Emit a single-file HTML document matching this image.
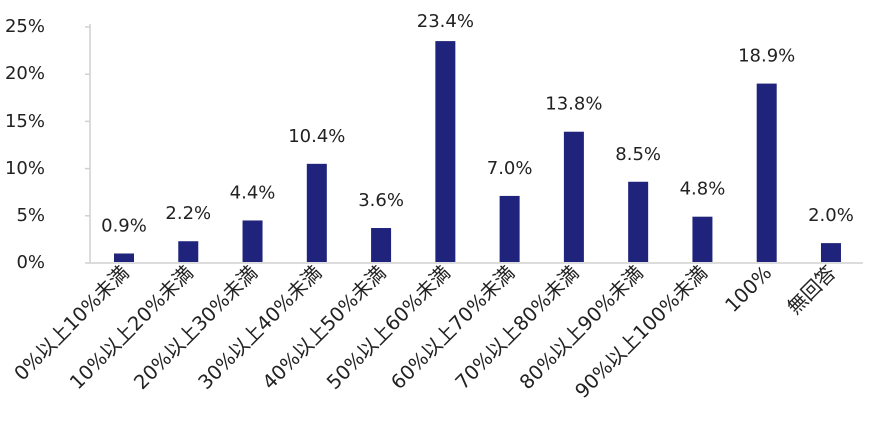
<!DOCTYPE html>
<html><head><meta charset="utf-8"><style>
body{margin:0;background:#fff}
svg{display:block;font-family:"DejaVu Sans","Noto Sans CJK JP",sans-serif}
</style></head><body>
<svg width="886" height="438" xmlns="http://www.w3.org/2000/svg">
<g font-size="18" fill="#222" text-anchor="end">
<text x="45" y="268">0%</text>
<text x="45" y="221">5%</text>
<text x="45" y="174">10%</text>
<text x="45" y="127">15%</text>
<text x="45" y="79">20%</text>
<text x="45" y="32">25%</text>
</g>
<g stroke="#d0d0d0" stroke-width="1.5">
<line x1="90" y1="24" x2="90" y2="263"/>
<line x1="85" y1="263" x2="863" y2="263"/>
<line x1="85" y1="215.8" x2="90" y2="215.8"/>
<line x1="85" y1="168.6" x2="90" y2="168.6"/>
<line x1="85" y1="121.4" x2="90" y2="121.4"/>
<line x1="85" y1="74.2" x2="90" y2="74.2"/>
<line x1="85" y1="27" x2="90" y2="27"/>
</g>
<g id="bars" fill="#1f237b"></g>
<g id="vals" font-size="18" fill="#222" text-anchor="middle"></g>
<g id="cats" font-size="19.5" fill="#222" text-anchor="end"></g>
<script>
(function(){
var v=[0.9,2.2,4.4,10.4,3.6,23.4,7.0,13.8,8.5,4.8,18.9,2.0];
var c=["0%以上10%未満","10%以上20%未満","20%以上30%未満","30%以上40%未満","40%以上50%未満","50%以上60%未満","60%以上70%未満","70%以上80%未満","80%以上90%未満","90%以上100%未満","100%","無回答"];
var ns="http://www.w3.org/2000/svg",b=document.getElementById("bars"),t=document.getElementById("vals"),k=document.getElementById("cats");
for(var i=0;i<12;i++){var cx=124+i*64.27,h=v[i]*9.44,ty=262-h;
var r=document.createElementNS(ns,"rect");r.setAttribute("x",cx-10);r.setAttribute("y",ty);r.setAttribute("width",20);r.setAttribute("height",h);b.appendChild(r);
var s=document.createElementNS(ns,"text");s.setAttribute("x",cx);s.setAttribute("y",Math.max(27,ty-22));s.textContent=v[i].toFixed(1)+"%";t.appendChild(s);
var q=document.createElementNS(ns,"text");q.setAttribute("transform","translate("+(cx+6)+",274) rotate(-45)");q.textContent=c[i];k.appendChild(q);}
})();
</script>
</svg>
</body></html>
